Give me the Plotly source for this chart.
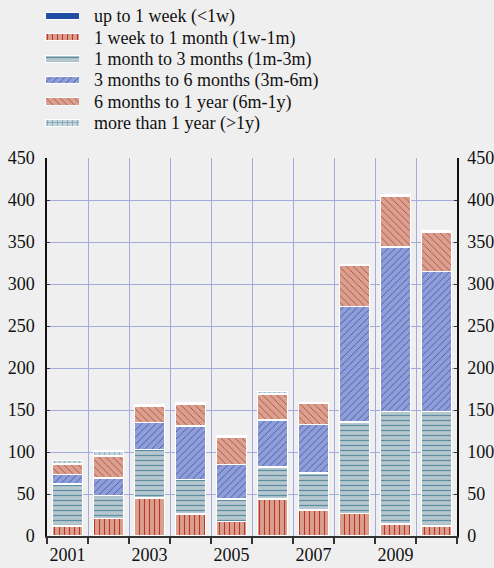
import plotly.graph_objects as go

years = [2001, 2002, 2003, 2004, 2005, 2006, 2007, 2008, 2009, 2010]
up_to_1w = [0, 0, 0, 0, 0, 0, 0, 0, 0, 0]
w1_m1 = [12, 21, 45, 26, 17, 44, 31, 27, 14, 12]
m1_m3 = [50, 27, 58, 41, 27, 38, 44, 109, 134, 136]
m3_m6 = [11, 21, 32, 64, 41, 56, 58, 137, 196, 167]
m6_y1 = [13, 26, 19, 26, 33, 31, 25, 49, 60, 47]
over_1y = [4, 6, 2, 2, 1, 3, 1, 1, 2, 1]
tick_years = [2001, 2003, 2005, 2007, 2009]
series_names = [
    "up to 1 week (<1w)",
    "1 week to 1 month (1w-1m)",
    "1 month to 3 months (1m-3m)",
    "3 months to 6 months (3m-6m)",
    "6 months to 1 year (6m-1y)",
    "more than 1 year (>1y)",
]

series_values = [up_to_1w, w1_m1, m1_m3, m3_m6, m6_y1, over_1y]
styles = [
    ("#1f4ea3", "", "#1f4ea3", 0.3),
    ("#d9a08f", "|", "#c0342a", 0.22),
    ("#b7c7cf", "-", "#5b8ea0", 0.25),
    ("#909dd6", "/", "#2d4fae", 0.15),
    ("#d9a190", "\\", "#b8362e", 0.15),
    ("#c3d4dc", "+", "#5b8ea0", 0.2),
]

FONT = "Liberation Serif"
W, H = 494, 568

# main plot geometry (pixels within figure)
px_l, px_r, px_t, px_b = 47, 457, 158, 536
xdom = [px_l / W, px_r / W]
ydom = [(H - px_b) / H, (H - px_t) / H]


def make_pattern(bg, shape, fg, sol):
    if not shape:
        return None
    return dict(shape=shape, bgcolor=bg, fgcolor=fg, size=5, solidity=sol, fillmode="replace")


fig = go.Figure()
for name, vals, (bg, shape, fg, sol) in zip(series_names, series_values, styles):
    fig.add_trace(go.Bar(
        x=years, y=vals, name=name, showlegend=False,
        marker=dict(color=bg, pattern=make_pattern(bg, shape, fg, sol), line=dict(color="white", width=1.5)),
    ))

# right axis companion
fig.add_trace(go.Scatter(x=[years[0]], y=[None], yaxis="y2", showlegend=False, hoverinfo="skip"))

# legend drawn as a small horizontal bar chart
for i, (name, (bg, shape, fg, sol)) in enumerate(zip(series_names, styles)):
    fig.add_trace(go.Bar(
        x=[1], y=[i], orientation="h", xaxis="x3", yaxis="y3", width=0.34,
        marker=dict(color=bg, pattern=make_pattern(bg, shape, fg, sol), line=dict(color="white", width=1)),
        showlegend=False, hoverinfo="skip",
    ))

grid = "#a4aadc"
tf = dict(family=FONT, size=18, color="#111111")
fig.update_layout(
    width=W, height=H,
    barmode="stack", bargap=0.26,
    paper_bgcolor="#efefef", plot_bgcolor="rgba(0,0,0,0)",
    margin=dict(l=0, r=0, t=0, b=0, autoexpand=False),
    font=dict(family=FONT, size=18, color="#111111"),
    showlegend=False,
    xaxis=dict(
        domain=xdom, anchor="y",
        range=[2000.5, 2010.5], tickmode="array", tickvals=tick_years,
        ticktext=[str(y) for y in tick_years], ticks="", showgrid=False,
        showline=True, linecolor="#333333", linewidth=1.5, tickangle=0,
        minor=dict(tickmode="array", tickvals=[y + 0.5 for y in [2000] + years],
                   ticks="outside", ticklen=6, tickcolor="#333333", tickwidth=1.5,
                   showgrid=True, gridcolor=grid, gridwidth=1),
        zeroline=False, tickfont=tf, ticklabelstandoff=2,
    ),
    yaxis=dict(
        domain=ydom, anchor="x",
        range=[0, 450], dtick=50, tick0=0, showgrid=True, gridcolor=grid, gridwidth=1,
        showline=True, linecolor="#111111", linewidth=1.5, ticks="inside", ticklen=3,
        tickcolor="#333333", zeroline=False, tickfont=tf, ticklabelstandoff=7,
        ticklabeloverflow="allow",
    ),
    yaxis2=dict(
        range=[0, 450], dtick=50, tick0=0, overlaying="y", side="right", showgrid=False,
        showline=True, linecolor="#111111", linewidth=1.5, ticks="inside", ticklen=3,
        tickcolor="#333333", zeroline=False, tickfont=tf, ticklabelstandoff=5,
        ticklabeloverflow="allow",
    ),
    xaxis3=dict(
        domain=[45 / W, 79 / W], anchor="y3", range=[0, 1], visible=False, fixedrange=True,
    ),
    yaxis3=dict(
        domain=[1 - 136 / H, 1 - 5 / H], anchor="x3", range=[5.6, -0.5], side="right",
        tickmode="array", tickvals=list(range(len(series_names))), ticktext=series_names,
        ticks="", showgrid=False, showline=False, zeroline=False, tickfont=tf,
        ticklabelstandoff=14, fixedrange=True, ticklabeloverflow="allow",
    ),
)

fig.write_html(
    "out.html",
    config={"displayModeBar": False},
    post_script="document.body.style.margin='0';document.documentElement.style.overflow='hidden';document.body.style.overflow='hidden';",
)
